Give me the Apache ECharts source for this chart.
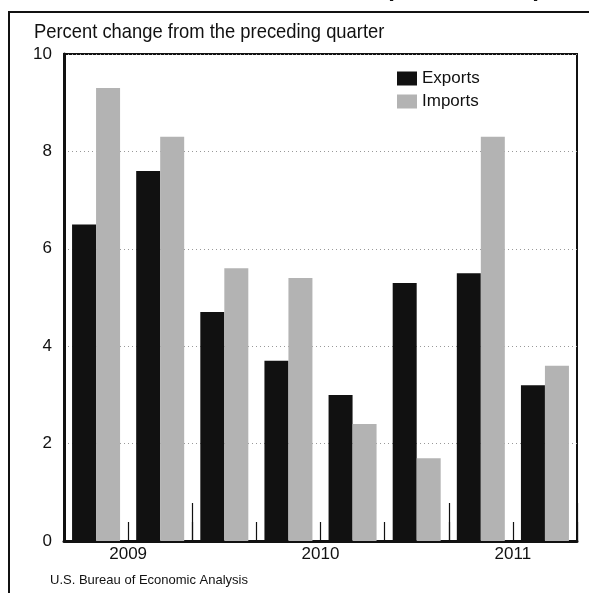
<!DOCTYPE html>
<html>
<head>
<meta charset="utf-8">
<script src="https://cdn.jsdelivr.net/npm/echarts@6/dist/echarts.min.js"></script>
<style>
html,body{margin:0;padding:0;background:#fff;}
#c{width:589px;height:593px;}
</style>
</head>
<body>
<div id="c"></div>
<script>
const quarters = ['2009 Q3','2009 Q4','2010 Q1','2010 Q2','2010 Q3','2010 Q4','2011 Q1','2011 Q2'];
const exportsVals = [6.5, 7.6, 4.7, 3.7, 3.0, 5.3, 5.5, 3.2];
const importsVals = [9.3, 8.3, 5.6, 5.4, 2.4, 1.7, 8.3, 3.6];
const yearLabels = {1: '2009', 4: '2010', 7: '2011'};
const yTicks = [0, 2, 4, 6, 8, 10];

const chart = echarts.init(document.getElementById('c'), null, {renderer: 'canvas'});
const font = "'Liberation Sans', Arial, Helvetica, sans-serif";

chart.setOption({
  animation: false,
  backgroundColor: '#fff',
  textStyle: {fontFamily: font},
  graphic: [
    {type: 'rect', shape: {x: 9, y: 12, width: 700, height: 700}, style: {fill: 'none', stroke: '#111', lineWidth: 2}, z: 0},
    {type: 'text', x: 359, y: -11, style: {text: 'Exports and Imports', font: "bold 24px 'Liberation Sans', Arial, sans-serif", fill: '#111', verticalAlign: 'middle'}},
    {type: 'text', x: 34, y: 32, scaleX: 0.875, style: {text: 'Percent change from the preceding quarter', font: "21px 'Liberation Sans', Arial, sans-serif", fill: '#111', verticalAlign: 'middle'}},
    {type: 'text', x: 50, y: 580, style: {text: 'U.S. Bureau of Economic Analysis', font: "13px 'Liberation Sans', Arial, sans-serif", fill: '#111', verticalAlign: 'middle'}}
  ],
  legend: {
    orient: 'vertical',
    left: 392,
    top: 65,
    itemWidth: 20,
    itemHeight: 14,
    itemGap: 6,
    icon: 'rect',
    textStyle: {fontFamily: font, fontSize: 17, color: '#111', padding: [0, 0, 0, 0]},
    data: ['Exports', 'Imports']
  },
  grid: {left: 64, right: 12, top: 54, bottom: 52, show: true, borderColor: '#111', borderWidth: 2, backgroundColor: 'transparent'},
  xAxis: [
    {
      type: 'category', data: quarters, boundaryGap: true,
      axisLine: {show: true, lineStyle: {color: '#111', width: 3}},
      axisTick: {show: true, inside: true, length: 19, lineStyle: {color: '#111', width: 1.2}},
      axisLabel: {show: false}, splitLine: {show: false}
    },
    {
      type: 'category', data: quarters, boundaryGap: true, position: 'bottom',
      axisLine: {show: false},
      axisTick: {show: true, inside: true, length: 38, interval: function (i) { return i === 2 || i === 6; }, lineStyle: {color: '#111', width: 1.2}},
      axisLabel: {show: false}, splitLine: {show: false}
    },
    {
      type: 'value', min: 0, max: 8, interval: 1, position: 'bottom',
      axisLine: {show: false}, axisTick: {show: false}, splitLine: {show: false},
      axisLabel: {show: true, margin: 5, fontSize: 17, color: '#111', fontFamily: font,
        formatter: function (v) { return yearLabels[v] || ''; }}
    }
  ],
  yAxis: {
    type: 'value', min: 0, max: 10, interval: 2,
    axisLine: {show: true, lineStyle: {color: '#111', width: 3}},
    axisTick: {show: false},
    axisLabel: {margin: 12, fontSize: 17, color: '#111', fontFamily: font,
      formatter: function (v) { return yTicks.indexOf(v) >= 0 ? String(v) : ''; }},
    splitLine: {show: true, lineStyle: {color: '#999', type: [1, 3], width: 1}}
  },
  series: [
    {name: 'Exports', type: 'bar', xAxisIndex: 0, data: exportsVals, barWidth: 24, barGap: '0%', itemStyle: {color: '#111'}},
    {name: 'Imports', type: 'bar', xAxisIndex: 0, data: importsVals, barWidth: 24, barGap: '0%', itemStyle: {color: '#b3b3b3'}}
  ]
});
</script>
</body>
</html>
